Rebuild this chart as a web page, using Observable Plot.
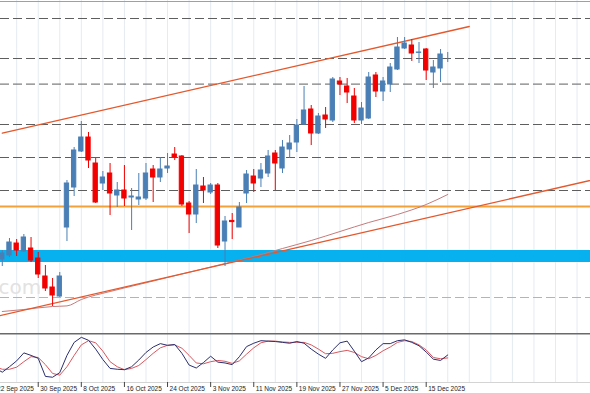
<!DOCTYPE html>
<html>
<head>
<meta charset="utf-8">
<script src="https://cdn.jsdelivr.net/npm/d3@7"></script>
<script src="https://cdn.jsdelivr.net/npm/@observablehq/plot@0.6"></script>
<style>
  html, body { margin: 0; padding: 0; background: #ffffff; }
  #chart { width: 590px; height: 393px; overflow: hidden; }
  #chart svg { display: block; }
</style>
</head>
<body>
<div id="chart"></div>
<script>
// Trading sessions (index 0 = 22 Sep 2025)
const sessions = [
  "2025-09-22","2025-09-23","2025-09-24","2025-09-25","2025-09-26","2025-09-29","2025-09-30",
  "2025-10-01","2025-10-02","2025-10-03","2025-10-06","2025-10-07","2025-10-08","2025-10-09","2025-10-10",
  "2025-10-13","2025-10-14","2025-10-15","2025-10-16","2025-10-17","2025-10-20","2025-10-21","2025-10-22",
  "2025-10-23","2025-10-24","2025-10-27","2025-10-28","2025-10-29","2025-10-30","2025-10-31",
  "2025-11-03","2025-11-04","2025-11-05","2025-11-06","2025-11-07","2025-11-10","2025-11-11","2025-11-12",
  "2025-11-13","2025-11-14","2025-11-17","2025-11-18","2025-11-19","2025-11-20","2025-11-21",
  "2025-11-24","2025-11-25","2025-11-26","2025-11-27","2025-11-28",
  "2025-12-01","2025-12-02","2025-12-03","2025-12-04","2025-12-05",
  "2025-12-08","2025-12-09","2025-12-10","2025-12-11","2025-12-12",
  "2025-12-15","2025-12-16","2025-12-17","2025-12-18"
];

// Candles from 23 Sep 2025 (session index 1) to 18 Dec 2025
const open = [
  173.75,173.95,174.55,174.15,174.30,173.80,172.90,172.35,171.90,175.35,
  177.35,179.15,179.85,178.55,177.55,178.05,176.95,177.20,176.85,176.75,
  176.80,178.25,177.85,178.30,179.00,178.90,176.55,176.00,177.40,177.10,
  177.45,174.65,175.68,175.35,177.05,177.90,177.80,178.05,179.05,178.30,
  179.25,179.60,180.50,181.25,180.05,180.95,180.70,182.65,182.40,181.90,
  180.70,180.80,182.95,182.15,182.50,183.25,184.30,184.45,184.08,184.25,
  183.10,183.30,183.90
];
const high = [
  174.20,174.80,174.75,175.00,174.85,174.10,173.45,172.80,173.10,177.70,
  179.35,180.65,180.10,178.80,178.15,178.55,177.60,178.45,177.30,178.05,
  178.55,178.45,178.85,179.05,179.35,178.95,176.65,178.25,177.85,177.55,
  177.55,175.90,176.05,176.60,178.20,178.25,178.55,179.20,179.20,179.70,
  179.95,180.75,182.40,181.45,181.05,181.35,182.85,182.85,182.80,182.30,
  181.60,183.10,183.10,182.85,183.55,184.85,184.85,184.75,184.60,184.30,
  183.70,184.25,184.10
];
const low = [
  173.40,173.85,173.90,174.10,173.60,172.80,172.15,171.40,171.85,174.65,
  176.90,179.10,178.30,176.55,177.20,175.95,176.35,176.40,175.20,176.45,
  176.70,176.60,177.60,178.05,178.70,176.40,175.05,175.55,176.55,177.00,
  174.30,173.40,174.75,175.35,176.55,177.10,177.35,177.85,177.20,178.05,
  178.80,179.10,180.45,179.45,180.00,180.30,180.60,181.95,181.55,180.55,
  180.50,180.75,181.85,181.65,182.10,183.20,184.25,183.65,183.55,182.70,
  182.30,182.60,183.60
];
const close = [
  174.05,174.60,174.20,174.85,173.70,173.00,172.30,171.95,172.90,177.55,
  179.20,179.85,178.70,176.60,177.85,177.05,177.20,176.80,176.90,176.85,
  178.05,177.85,178.25,178.40,178.85,176.50,176.00,177.45,177.20,177.45,
  174.45,175.65,175.62,176.35,178.00,177.55,178.20,178.90,178.55,179.35,
  179.55,180.45,181.20,180.05,180.90,180.75,182.75,182.50,182.10,180.70,
  181.30,182.85,182.15,182.65,183.35,184.35,184.55,184.05,184.10,183.20,
  183.35,184.00,183.90
];

// Stochastic oscillator (session index 0..63)
const stochMain = [
  25,15,28,42,61,55,48,5,3,14,55,
  86,98,91,70,45,24,22,21,28,44,
  62,75,83,79,81,60,32,25,38,53,
  39,37,33,52,76,84,90,89,88,86,
  84,88,84,70,58,48,68,85,89,65,
  40,49,68,83,83,90,92,86,78,63,
  46,43,56
];
const stochSignal = [
  28,22,22,27,40,52,50,33,12,8,28,
  55,80,90,85,65,40,28,21,24,31,
  45,60,73,79,80,72,55,37,35,40,
  43,41,36,42,58,73,85,89,89,87,
  86,86,86,80,70,59,60,64,67,62,
  52,47,55,66,75,86,90,88,80,68,
  50,47,49
];

// Moving average read at selected sessions
const maSession = [1,4,8,10,12,16,20,24,28,32,36,40,44,48,52,56,60,63];
const maValue = [171.15,171.25,171.40,171.43,171.75,172.15,172.50,172.85,173.20,173.55,173.90,174.30,174.70,175.15,175.60,176.00,176.50,177.00];

// Horizontal levels
const resistanceLevels = [185.80, 183.80, 182.52, 180.50, 178.85, 177.20];
const supportLevel = [171.85];
const pivotLevel = [176.40];
const zoneLow = 173.60, zoneHigh = 174.20;

// Channel trend lines (session index, price)
const upperTrendSession = [1, 66];
const upperTrendPrice = [180.07, 185.40];
const lowerTrendSession = [0, 84];
const lowerTrendPrice = [170.89, 177.80];

// Axis tick labels
const tickSessions = [0, 6, 12, 18, 24, 30, 36, 42, 48, 54, 60];
const tickLabels = ["22 Sep 2025","30 Sep 2025","8 Oct 2025","16 Oct 2025","24 Oct 2025","3 Nov 2025",
  "11 Nov 2025","19 Nov 2025","27 Nov 2025","5 Dec 2025","15 Dec 2025"];

// ---- build tables ----
const candles = open.map((o, k) => ({i: k + 1, date: sessions[k + 1], open: o, high: high[k], low: low[k], close: close[k]}));
const stochRows = sessions.map((d, i) => ({i, k: stochMain[i], d: stochSignal[i]}));
const maRows = maSession.map((s, k) => ({i: s, v: maValue[k]}));
const upperTrend = upperTrendSession.map((s, k) => ({i: s, v: upperTrendPrice[k]}));
const lowerTrend = lowerTrendSession.map((s, k) => ({i: s, v: lowerTrendPrice[k]}));
const tickRows = tickSessions.map((s, k) => ({i: s, label: tickLabels[k]}));

const xDomain = [0.75, 82.87];
const gridSessions = d3.range(0, 85, 3);
const bull = "#4a7fb5", bear = "#f20000";
const candleColor = d => d.close >= d.open ? bull : bear;

const main = Plot.plot({
  width: 590, height: 333, margin: 0,
  style: {background: "#ffffff", overflow: "hidden"},
  x: {type: "linear", domain: xDomain, range: [0, 590], axis: null},
  y: {domain: [170.05, 186.7], range: [333, 0], axis: null},
  color: {type: "identity"},
  marks: [
    Plot.ruleX(gridSessions, {stroke: "#e4ebf1", strokeWidth: 1}),
    Plot.rect([{lo: zoneLow, hi: zoneHigh}], {x1: xDomain[0], x2: xDomain[1], y1: "lo", y2: "hi", fill: "#07b1f0"}),
    Plot.ruleY(resistanceLevels, {stroke: "#5e5e5e", strokeWidth: 1, strokeDasharray: "9,4"}),
    Plot.ruleY(supportLevel, {stroke: "#b4b4b4", strokeWidth: 1, strokeDasharray: "9,4"}),
    Plot.ruleY(pivotLevel, {stroke: "#f3a23a", strokeWidth: 2}),
    Plot.text(["com"], {frameAnchor: "bottom-left", dx: -2, dy: -40, fill: "#e2e2e2", fontSize: 20, fontFamily: "DejaVu Sans", textAnchor: "start"}),
    Plot.line(maRows, {x: "i", y: "v", stroke: "#c77a7a", strokeWidth: 1, curve: "monotone-x"}),
    Plot.line(upperTrend, {x: "i", y: "v", stroke: "#e5582c", strokeWidth: 1.3}),
    Plot.line(lowerTrend, {x: "i", y: "v", stroke: "#e5582c", strokeWidth: 1.3}),
    Plot.ruleX(candles, {x: "i", y1: "low", y2: "high", stroke: candleColor, strokeWidth: 1}),
    Plot.rect(candles, {x1: d => d.i - 0.3, x2: d => d.i + 0.3, y1: "open", y2: "close", fill: candleColor, stroke: candleColor, strokeWidth: 1}),
    Plot.frame({anchor: "top", stroke: "#a0a0a0", strokeWidth: 1, insetTop: 1})
  ]
});

const osc = Plot.plot({
  width: 590, height: 60, marginTop: 0, marginBottom: 11, marginLeft: 0, marginRight: 0,
  style: {background: "#ffffff", overflow: "hidden"},
  x: {type: "linear", domain: xDomain, range: [0, 590], axis: null},
  y: {domain: [0, 100], range: [45, 3], axis: null},
  marks: [
    Plot.ruleX(gridSessions, {stroke: "#e4ebf1", strokeWidth: 1}),
    Plot.line(stochRows, {x: "i", y: "d", stroke: "#d8585e", strokeWidth: 1}),
    Plot.line(stochRows, {x: "i", y: "k", stroke: "#2b2f6e", strokeWidth: 1}),
    Plot.frame({anchor: "top", stroke: "#6a6a6a", strokeWidth: 2}),
    Plot.frame({anchor: "bottom", stroke: "#d4d4d4", strokeWidth: 1}),
    Plot.axisX(tickSessions, {tickFormat: () => "", tickSize: 5, stroke: "#444", label: null}),
    Plot.text(tickRows, {x: "i", text: "label", frameAnchor: "bottom", dy: 6, dx: 2, textAnchor: "start",
      lineAnchor: "middle", fontSize: 6.5, fontFamily: "Liberation Sans Narrow, Liberation Sans, sans-serif", fill: "#222"})
  ]
});

const root = document.getElementById("chart");
root.appendChild(main);
root.appendChild(osc);
</script>
</body>
</html>
